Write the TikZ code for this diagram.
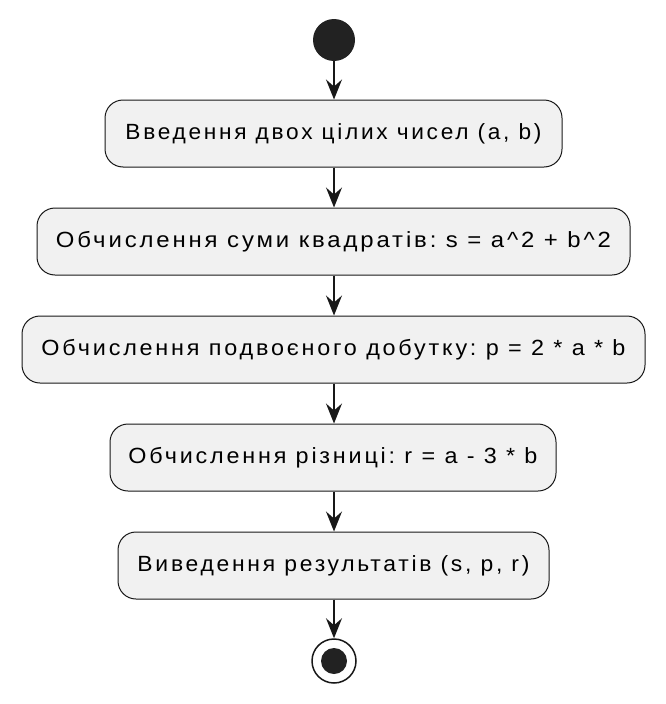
\documentclass[tikz,border=0pt]{standalone}
\usepackage{fontspec}
\usepackage{graphicx}
\setmainfont{Liberation Sans}[LetterSpace=12]
\usetikzlibrary{arrows.meta}
\definecolor{boxfill}{HTML}{F1F1F1}
\definecolor{lineclr}{HTML}{181818}
\definecolor{dotclr}{HTML}{222222}
\frenchspacing
\newcommand\fitwidth[2]{\resizebox{#1}{\height}{#2}}
\begin{document}
\begin{tikzpicture}[x=1pt,y=-1pt,
  actbox/.style={draw=lineclr, line width=1pt, fill=boxfill, rounded corners=18pt,
    minimum height=67pt, inner sep=0pt, font=\fontsize{22}{26}\selectfont\frenchspacing, text=black},
  flow/.style={draw=lineclr, line width=1.5pt, -{Stealth[length=20pt,width=16pt,inset=7pt]}}]
\useasboundingbox (0,0) rectangle (666,704);
\node[circle, fill=dotclr, minimum size=42pt, inner sep=0pt] (start) at (334,40) {};
\node[actbox, minimum width=457pt] (b1) at (333.5,133.5) {\fitwidth{416pt}{Введення двох цілих чисел (a, b)}};
\node[actbox, minimum width=593pt] (b2) at (333.5,241.5) {\fitwidth{555pt}{Обчислення суми квадратів: s = a\^{}2 + b\^{}2}};
\node[actbox, minimum width=623pt] (b3) at (333.5,349.5) {\fitwidth{584pt}{Обчислення подвоєного добутку: p = 2 * a * b}};
\node[actbox, minimum width=446pt] (b4) at (333,457.5) {\fitwidth{409pt}{Обчислення різниці: r = a - 3 * b}};
\node[actbox, minimum width=431pt] (b5) at (333.5,565.5) {\fitwidth{392pt}{Виведення результатів (s, p, r)}};
\node[circle, draw=lineclr, line width=1.5pt, fill=white, minimum size=44pt, inner sep=0pt] (stop) at (334,661) {};
\node[circle, fill=dotclr, minimum size=26pt, inner sep=0pt] (stopdot) at (stop.center) {};
\draw[flow] (start) -- (b1.north -| start);
\draw[flow] (b1.south -| start) -- (b2.north -| start);
\draw[flow] (b2.south -| start) -- (b3.north -| start);
\draw[flow] (b3.south -| start) -- (b4.north -| start);
\draw[flow] (b4.south -| start) -- (b5.north -| start);
\draw[flow] (b5.south -| start) -- (stop);
\end{tikzpicture}
\end{document}
